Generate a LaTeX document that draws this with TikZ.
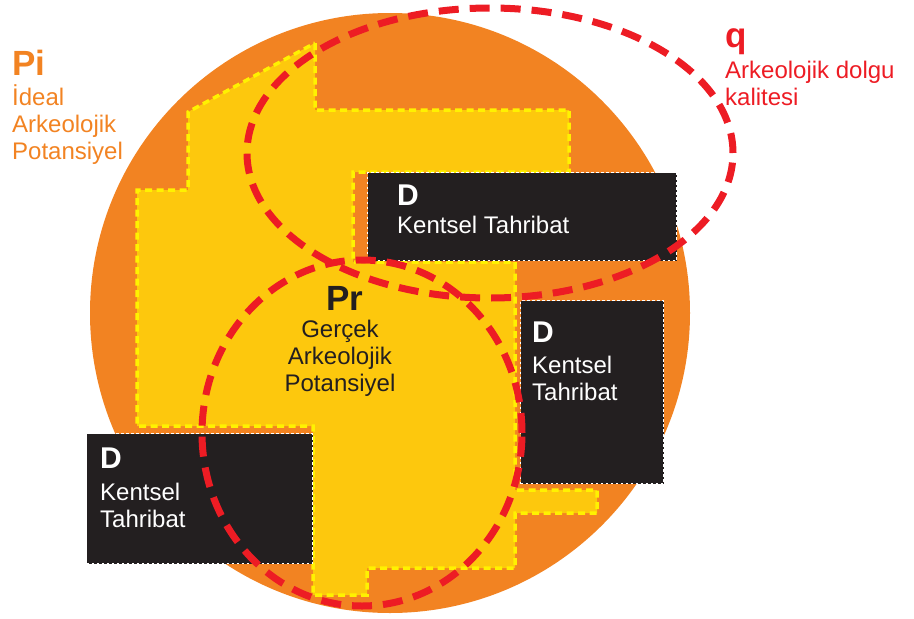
\documentclass[tikz,border=0pt]{standalone}
\usepackage{fontspec}
\setmainfont{Liberation Sans}
\definecolor{ciorange}{HTML}{F28322}
\definecolor{ciyellow}{HTML}{FDC80D}
\definecolor{ciborder}{HTML}{FFF200}
\definecolor{cired}{HTML}{ED1C24}
\definecolor{cidark}{HTML}{231F20}
\tikzstyle{zone}=[fill=ciyellow, draw=ciborder, line width=3.5pt, dash pattern=on 7pt off 4.5pt]
\tikzstyle{damage}=[fill=cidark, draw=white, line width=1.3pt, dash pattern=on 2.5pt off 2.5pt, inner sep=0pt, anchor=north west]
\tikzstyle{quality}=[draw=cired, line width=7pt, dash pattern=on 20pt off 11pt]
\tikzstyle{title}=[font=\fontsize{35}{35}\selectfont\bfseries, inner sep=0pt, anchor=base west]
\tikzstyle{dtitle}=[font=\fontsize{30}{30}\selectfont\bfseries, inner sep=0pt, anchor=base west, white]
\tikzstyle{body}=[font=\fontsize{24}{27}\selectfont, inner sep=0pt, anchor=base west, align=left]
\tikzset{every picture/.style={
    x=1pt, y=-1pt
  }
}

\begin{document}
\begin{tikzpicture}
        \useasboundingbox (0,0) rectangle (914,619);
        % ideal potential
        \fill[ciorange] (390,313) circle[radius=300pt];
        \draw[zone] (315,43) -- (315,110) -- (569,110) -- (569,172) -- (353,172) -- (353,262) -- (515,262) -- (515,490) -- (597,490) -- (597,513) -- (515,513) -- (515,568) -- (367,568) -- (367,595) -- (313,595) -- (313,426) -- (137,426) -- (137,190) -- (188,190) -- (188,112) -- cycle;
        % urban destruction (multi-line nodes sit on their last baseline)
        \node[damage, minimum width=309pt, minimum height=88pt] (topbox) at (367,172) {};
        \node[damage, minimum width=143pt, minimum height=183pt] (rightbox) at (520,300) {};
        \node[damage, minimum width=226pt, minimum height=130pt] (leftbox) at (86,433) {};
        \node[dtitle] (topD) at (397,205) {D};
        \node[body, white] (toptext) at (397,233) {Kentsel Tahribat};
        \node[dtitle] (rightD) at (532,342) {D};
        \node[body, white] (righttext) at (532,400) {Kentsel\\Tahribat};
        \node[dtitle] (leftD) at (100,468) {D};
        \node[body, white] (lefttext) at (100,527) {Kentsel\\Tahribat};
        % fill quality and real potential
        \draw[quality] (490,153) ellipse[x radius=243pt, y radius=145pt];
        \draw[quality] (362,433) ellipse[x radius=160pt, y radius=173pt];
        \node[title, ciorange] (pi) at (12,75) {Pi};
        \node[body, ciorange] (pitext) at (12,159) {İdeal\\Arkeolojik\\Potansiyel};
        \node[title, cired] (q) at (725,47) {q};
        \node[body, cired] (qtext) at (725,105) {Arkeolojik dolgu\\kalitesi};
        \node[title, cidark, anchor=base] (pr) at (345,310) {Pr};
        \node[body, cidark, anchor=base, align=center] (prtext) at (340,391) {Gerçek\\Arkeolojik\\Potansiyel};
      \end{tikzpicture}
\end{document}
